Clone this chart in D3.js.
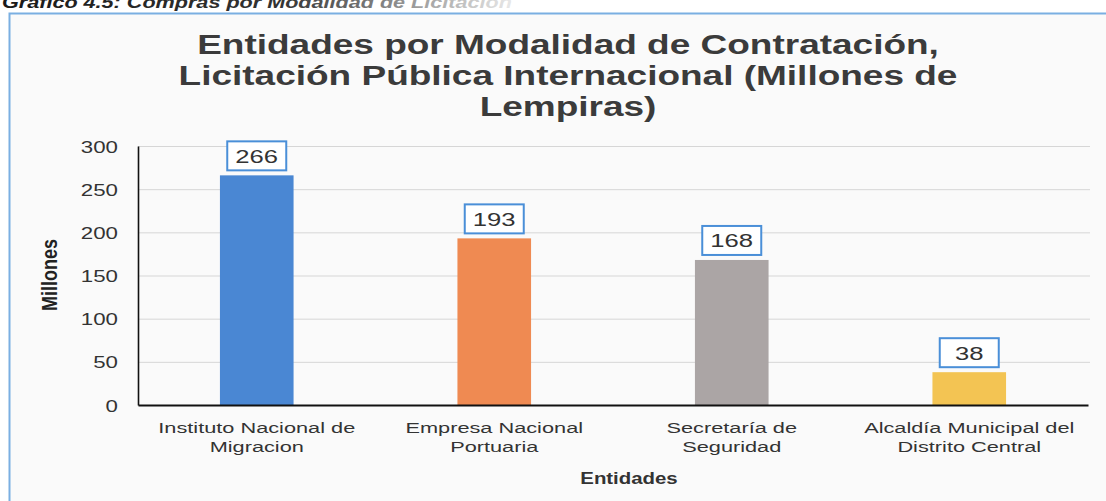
<!DOCTYPE html>
<html><head><meta charset="utf-8">
<script src="https://cdn.jsdelivr.net/npm/d3@7"></script>
<style>body{margin:0;background:#fff} svg{display:block}</style>
</head><body><svg id="c" width="1106" height="501"></svg>
<script>
const categories = ["Instituto Nacional de\nMigracion","Empresa Nacional\nPortuaria","Secretaría de\nSeguridad","Alcaldía Municipal del\nDistrito Central"];
const values = [266, 193, 168, 38];
const barColors = ["#4a87d3", "#ef8a52", "#aba5a5", "#f3c453"];
const yTicks = [0, 50, 100, 150, 200, 250, 300];
const titleLines = ["Entidades por Modalidad de Contratación,", "Licitación Pública Internacional (Millones de", "Lempiras)"];
const headingText = "Gráfico 4.5: Compras por Modalidad de Licitación";
const yTitle = "Millones";
const xTitle = "Entidades";

const FONT = "'Liberation Sans', Arial, sans-serif";
const SX = 1.35; // horizontal stretch of the scanned picture
const svg = d3.select("#c");

const defs = svg.append("defs");
const lg = defs.append("linearGradient").attr("id","fade").attr("x1","0").attr("x2","1").attr("y1","0").attr("y2","0");
lg.append("stop").attr("offset","0%").attr("stop-color","#1a1a1a");
lg.append("stop").attr("offset","55%").attr("stop-color","#333");
lg.append("stop").attr("offset","100%").attr("stop-color","#e8e8e8");

svg.append("text")
  .attr("transform", `translate(2,8) scale(${SX},1)`)
  .attr("font-family", FONT).attr("font-weight","bold").attr("font-style","italic")
  .attr("font-size", 16).attr("fill","url(#fade)")
  .text(headingText);

svg.append("rect").attr("x",9.5).attr("y",13.5).attr("width",1200).attr("height",600)
  .attr("fill","#fafafa").attr("stroke","#7aafe2").attr("stroke-width",2);

svg.append("g").selectAll("text").data(titleLines).join("text")
  .attr("transform", (d,i) => `translate(568,${54 + i*31}) scale(${SX + 0.02},1)`)
  .attr("text-anchor","middle").attr("font-family",FONT).attr("font-weight","bold")
  .attr("font-size",27).attr("fill","#3b3b3b").text(d => d);

const pLeft = 138, pRight = 1088, pTop = 146, pBottom = 405;
const x = d3.scaleBand().domain(categories).range([pLeft, pRight]).paddingInner(0.69).paddingOuter(0.345);
const y = d3.scaleLinear().domain([0, 300]).range([pBottom, pTop]);

const grid = svg.append("g").attr("transform",`translate(${pLeft},0)`)
  .call(d3.axisLeft(y).tickValues(yTicks.slice(1)).tickSize(-(pRight - pLeft + 2)).tickFormat(""));
grid.select(".domain").remove();
grid.selectAll("line").attr("stroke","#d6d6d6").attr("stroke-width",1);

svg.append("g").selectAll("rect").data(values).join("rect")
  .attr("x",(d,i) => x(categories[i])).attr("width", x.bandwidth())
  .attr("y", d => y(d)).attr("height", d => y(0) - y(d))
  .attr("fill",(d,i) => barColors[i]);

const ya = svg.append("g").attr("transform",`translate(${pLeft},0)`)
  .call(d3.axisLeft(y).tickValues(yTicks).tickSize(0).tickPadding(0));
ya.select(".domain").attr("stroke","#111").attr("stroke-width",1.6);
ya.selectAll("text").attr("x", -20 / SX).attr("dy","0.37em")
  .attr("transform",`scale(${SX},1)`)
  .attr("font-family",FONT).attr("font-size",16.5).attr("fill","#333");

const xa = svg.append("g").attr("transform",`translate(0,${pBottom})`)
  .call(d3.axisBottom(x).tickSize(0).tickFormat(""));
xa.select(".domain").attr("stroke","#111").attr("stroke-width",2.2);
xa.selectAll(".tick").each(function(d){
  const t = d3.select(this).append("text")
    .attr("transform",`scale(${SX + 0.1},1)`)
    .attr("text-anchor","middle").attr("font-family",FONT).attr("font-size",15).attr("fill","#333");
  d.split("\n").forEach((ln,i) => t.append("tspan").attr("x",0).attr("y", 28 + i*19).text(ln));
});

const lab = svg.append("g").selectAll("g").data(values).join("g")
  .attr("transform",(d,i) => `translate(${x(categories[i]) + x.bandwidth()/2},${y(d) - 5})`);
lab.append("rect").attr("x",-29.5).attr("y",-29).attr("width",59).attr("height",29)
  .attr("fill","#fff").attr("stroke","#4a8fd8").attr("stroke-width",2);
lab.append("text").attr("transform",`translate(0,-7.5) scale(${SX},1)`)
  .attr("text-anchor","middle").attr("font-family",FONT).attr("font-size",19).attr("fill","#333")
  .text(d => d);

svg.append("text").attr("transform","translate(57,275) scale(1.25,1) rotate(-90)")
  .attr("text-anchor","middle").attr("font-family",FONT).attr("font-weight","bold")
  .attr("font-size",18).attr("fill","#222").text(yTitle);
svg.append("text").attr("transform",`translate(629,484) scale(1.2,1)`)
  .attr("text-anchor","middle").attr("font-family",FONT).attr("font-weight","bold")
  .attr("font-size",17).attr("fill","#333").text(xTitle);
</script></body></html>
